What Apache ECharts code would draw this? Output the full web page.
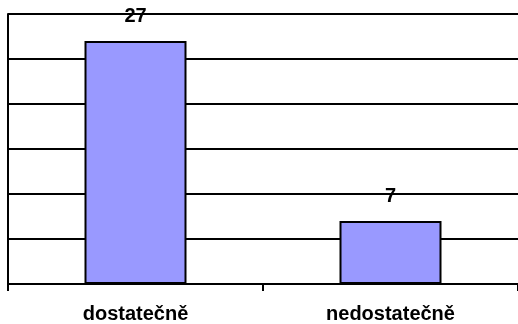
<!DOCTYPE html>
<html><head><meta charset="utf-8">
<script src="https://cdn.jsdelivr.net/npm/echarts@6/dist/echarts.min.js"></script>
<style>html,body{margin:0;padding:0;background:#fff}#c{width:518px;height:324px}</style>
</head><body><div id="c"></div>
<script>
var categories = ['dostatečně', 'nedostatečně'];
var values = [27, 7];
var chart = echarts.init(document.getElementById('c'), null, {renderer: 'canvas'});
chart.setOption({
  animation: false,
  grid: {left: 8, right: -4, top: 14, bottom: 40},
  xAxis: {
    type: 'category', data: categories,
    axisLine: {lineStyle: {color: '#000', width: 2}},
    axisTick: {show: true, length: 7, lineStyle: {color: '#000', width: 2}},
    axisLabel: {color: '#000', fontFamily: 'Liberation Sans, Arial', fontWeight: 'bold', fontSize: 20, margin: 20}
  },
  yAxis: {
    type: 'value', min: 0, max: 30, interval: 5,
    axisLine: {show: true, lineStyle: {color: '#000', width: 2}},
    axisTick: {show: false},
    axisLabel: {show: false},
    splitLine: {show: true, lineStyle: {color: '#000', width: 2}}
  },
  series: [{
    type: 'bar', data: values, barWidth: '40%',
    itemStyle: {color: '#9999FF', borderColor: '#000', borderWidth: 2},
    label: {show: true, position: 'top', distance: 15, color: '#000',
      fontFamily: 'Liberation Sans, Arial', fontWeight: 'bold', fontSize: 20}
  }]
});
</script></body></html>
